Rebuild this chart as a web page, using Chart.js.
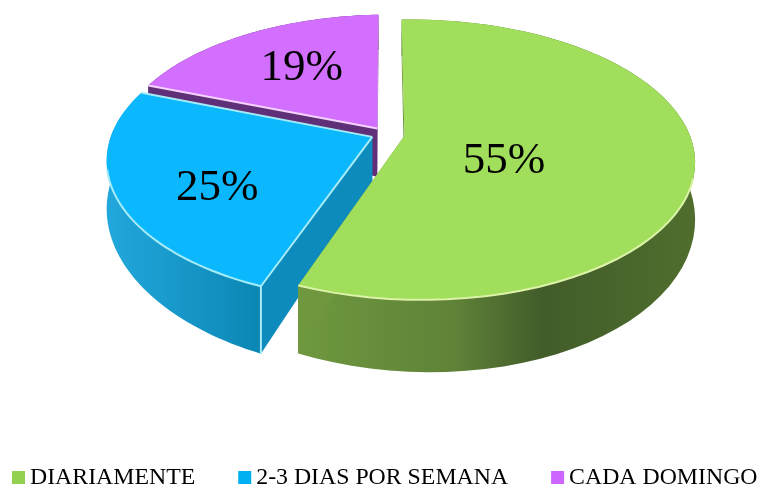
<!DOCTYPE html>
<html lang="es">
<head>
  <meta charset="UTF-8" />
  <title>Frecuencia</title>
  <script src="https://cdn.jsdelivr.net/npm/chart.js"></script>
  <style>
    html, body { margin: 0; padding: 0; background: #fff; }
    .wrap { width: 758px; height: 487px; }
  </style>
</head>
<body>
<div class="wrap"><canvas id="pie" width="758" height="487"></canvas></div>

<script>
  const categories = ['DIARIAMENTE', '2-3 DIAS POR SEMANA', 'CADA DOMINGO'];
  const percentages = [55, 25, 19];

  const topColors = ['#a0de5c', '#0bb7fd', '#d26fff'];
  const legendColors = ['#92d050', '#00b0f0', '#cc66ff'];
  const edgeColors = ['#dcf3a8', '#a6ecf8', '#f6d2ff'];
  const cutColors = ['#6e973e', '#0e8bbd', '#5f2f78'];

  // tilted disc: perspective projection of the pie's unit circle
  const view = { cx: 385, cy: 134, rx: 272, ry: 135, k: 0.17, m: 0.04, depth: 49 };

  function project(u, v, down) {
    const w = 1 - view.k * v - view.m * u;
    return {
      x: view.cx + view.rx * u / w,
      y: view.cy + view.ry * v / w + (down ? view.depth / (w * w) : 0)
    };
  }

  function tracePath(ctx, pts) {
    ctx.beginPath();
    pts.forEach((p, i) => { if (i) ctx.lineTo(p.x, p.y); else ctx.moveTo(p.x, p.y); });
  }

  function sliceGeometry(arc) {
    const p = arc.getProps(['startAngle', 'endAngle', 'outerRadius'], true);
    const mid = (p.startAngle + p.endAngle) / 2;
    const off = arc.options.offset / 4 / p.outerRadius; // same /4 the arc element uses
    const ou = Math.cos(mid) * off;
    const ov = Math.sin(mid) * off;
    const rim = [];
    const steps = 60;
    for (let i = 0; i <= steps; i++) {
      const a = p.startAngle + (p.endAngle - p.startAngle) * i / steps;
      rim.push({ u: ou + Math.cos(a), v: ov + Math.sin(a) });
    }
    return { mid, ou, ov, rim };
  }

  function sideFill(ctx, index) {
    if (index === 0) {
      const g = ctx.createLinearGradient(297, 0, 693, 0);
      g.addColorStop(0, '#6f993f');
      g.addColorStop(0.4, '#5f8238');
      g.addColorStop(0.62, '#425c2a');
      g.addColorStop(1, '#4f6e2d');
      return g;
    }
    if (index === 1) {
      const g = ctx.createLinearGradient(105, 0, 262, 0);
      g.addColorStop(0, '#22a8dd');
      g.addColorStop(1, '#0b86b3');
      return g;
    }
    return cutColors[2];
  }

  const tiltedPie = {
    id: 'tiltedPie',
    beforeDatasetDraw(chart) {
      const ctx = chart.ctx;
      const arcs = chart.getDatasetMeta(0).data;
      ctx.save();
      ctx.lineJoin = 'round';
      // back to front
      [2, 1, 0].forEach(i => {
        const g = sliceGeometry(arcs[i]);
        const top = g.rim.map(q => project(q.u, q.v, false));
        const bottom = g.rim.map(q => project(q.u, q.v, true));
        const apexTop = project(g.ou, g.ov, false);
        const apexBottom = project(g.ou, g.ov, true);

        // outer wall
        tracePath(ctx, top.concat(bottom.slice().reverse()));
        ctx.closePath();
        ctx.fillStyle = sideFill(ctx, i);
        ctx.fill();

        // cut faces
        ctx.fillStyle = cutColors[i];
        [0, top.length - 1].forEach(n => {
          tracePath(ctx, [apexTop, top[n], bottom[n], apexBottom]);
          ctx.closePath();
          ctx.fill();
        });

        // top face
        tracePath(ctx, [apexTop].concat(top));
        ctx.closePath();
        ctx.fillStyle = topColors[i];
        ctx.fill();

        // light bevel lines
        ctx.strokeStyle = edgeColors[i];
        ctx.lineWidth = 2;
        const front = top.filter((t, n) => g.rim[n].v > 0.25);
        if (front.length) {
          tracePath(ctx, front);
          ctx.stroke();
        }
        if (i === 1) {
          tracePath(ctx, [apexTop, top[0], bottom[0]]);
          ctx.stroke();
          tracePath(ctx, [apexTop, top[top.length - 1]]);
          ctx.stroke();
        }
        if (i === 2) {
          tracePath(ctx, [apexTop, top[0]]);
          ctx.stroke();
        }
      });
      ctx.restore();
      return false;
    },
    afterDatasetsDraw(chart) {
      const ctx = chart.ctx;
      const arcs = chart.getDatasetMeta(0).data;
      // label spot from each slice's tip, in disc units
      const labelSpots = [[0.345, 0.18], [-0.545, 0.36], [-0.31, -0.5]];
      ctx.save();
      ctx.fillStyle = '#000';
      ctx.font = '45px "Liberation Serif"';
      ctx.textAlign = 'center';
      ctx.textBaseline = 'middle';
      arcs.forEach((arc, i) => {
        const g = sliceGeometry(arc);
        const p = project(g.ou + labelSpots[i][0], g.ov + labelSpots[i][1], false);
        ctx.fillText(percentages[i] + '%', p.x, p.y);
      });

      // legend row: swatch + name, the built-in legend wraps at this width
      ctx.font = '23.8px "Liberation Serif"';
      ctx.textAlign = 'left';
      ctx.textBaseline = 'alphabetic';
      let x = 12;
      categories.forEach((name, i) => {
        ctx.fillStyle = legendColors[i];
        ctx.fillRect(x, 471, 13, 13);
        ctx.fillStyle = '#000';
        ctx.fillText(name, x + 18, 484);
        x += 18 + ctx.measureText(name).width + 43;
      });
      ctx.restore();
    }
  };

  new Chart(document.getElementById('pie'), {
    type: 'pie',
    data: {
      labels: categories,
      datasets: [{
        data: percentages,
        backgroundColor: topColors,
        borderWidth: 0,
        offset: [52, 37, 36]
      }]
    },
    options: {
      responsive: false,
      animation: false,
      radius: 180,
      plugins: {
        tooltip: { enabled: false },
        legend: { display: false }
      }
    },
    plugins: [tiltedPie]
  });
</script>
</body>
</html>
